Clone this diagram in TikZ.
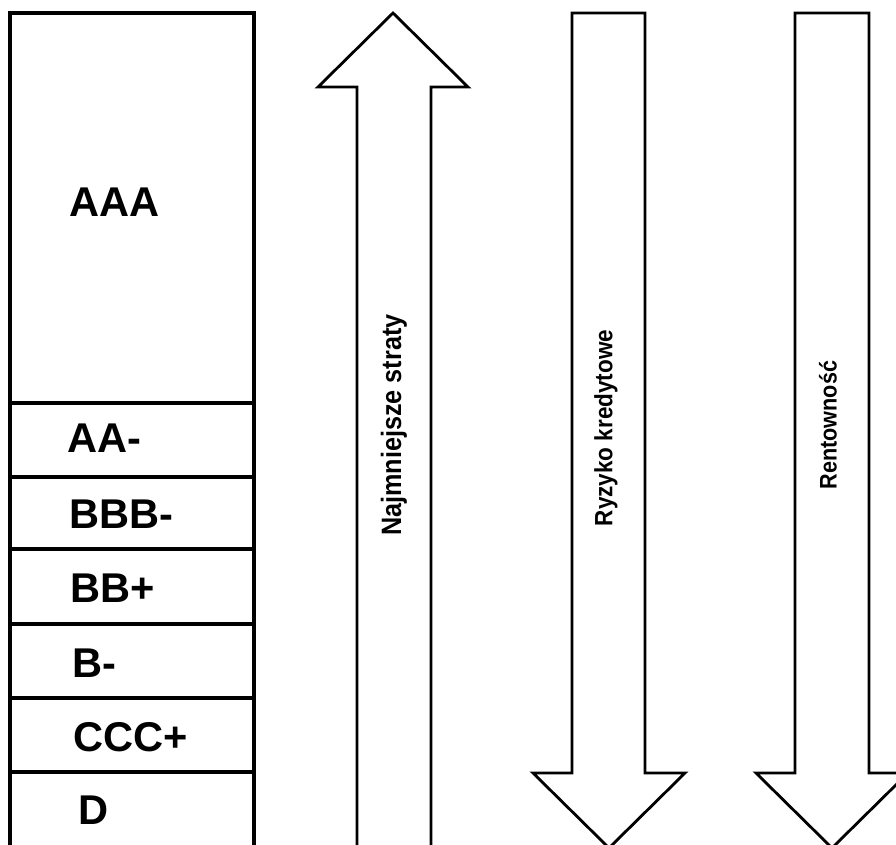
\documentclass[tikz,border=0pt]{standalone}
\usepackage{fontspec}
\setmainfont{Liberation Sans}
\begin{document}
\begin{tikzpicture}[x=0.5pt,y=-0.5pt,
  band/.style={draw=black,line width=1.6pt},
  lbl/.style={font=\fontsize{20.8}{24}\selectfont\bfseries,anchor=west,inner sep=0pt},
  bigarrow/.style={draw=black,line width=1.4pt,line join=miter,fill=white},
  vlbl/.style={rotate=90,inner sep=0pt}]
\useasboundingbox (0,0) rectangle (896,845);
\clip (0,0) rectangle (896,845);
% rating column
\draw[band] (10,860) -- (10,13) -- (254,13) -- (254,860);
\foreach \yy in {403,477,549,624,698,772} \draw[band] (10,\yy) -- (254,\yy);
\node[lbl] (aaa) at (69,202) {AAA};
\node[lbl] (aam) at (67,438) {AA-};
\node[lbl] (bbbm) at (69,514) {BBB-};
\node[lbl] (bbp) at (70,588) {BB+};
\node[lbl] (bm) at (72,663) {B-};
\node[lbl] (cccp) at (73,737) {CCC+};
\node[lbl] (d) at (78,810) {D};
% up arrow
\draw[bigarrow] (357,860) -- (357,87) -- (318,87) -- (393,13) -- (468,87) -- (431,87) -- (431,860);
\node[vlbl] (straty) at (394,425) {\scalebox{0.9}[1]{\fontsize{14}{16}\selectfont\bfseries Najmniejsze straty}};
% down arrows
\draw[bigarrow] (572,13) -- (645,13) -- (645,773) -- (685,773) -- (609,848) -- (533,773) -- (572,773) -- cycle;
\node[vlbl] (ryzyko) at (606,428) {\scalebox{0.9}[1]{\fontsize{12.5}{15}\selectfont\bfseries Ryzyko kredytowe}};
\draw[bigarrow] (795,13) -- (869,13) -- (869,773) -- (908,773) -- (832,848) -- (756,773) -- (795,773) -- cycle;
\node[vlbl] (rent) at (828,425) {\scalebox{0.9}[1]{\fontsize{12}{14}\selectfont\bfseries Rentowność}};
\end{tikzpicture}
\end{document}
